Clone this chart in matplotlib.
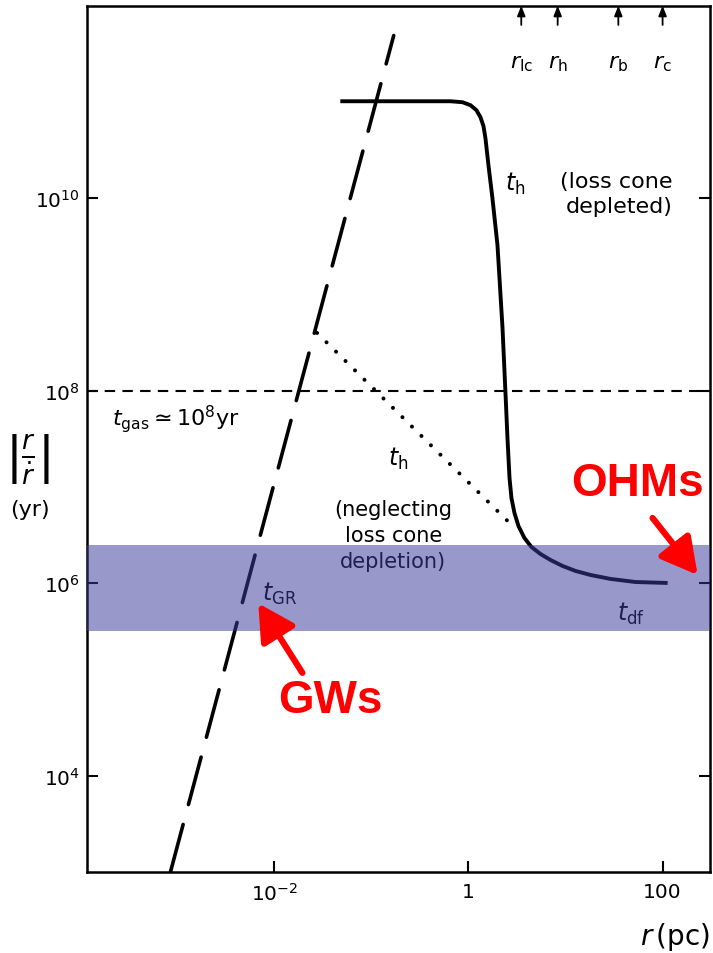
import numpy as np
import matplotlib
matplotlib.use("Agg")
import matplotlib.pyplot as plt

plt.rcParams['font.family'] = ['DejaVu Sans']
plt.rcParams['mathtext.fontset'] = 'dejavusans'

# hardening time t_h with the loss cone depleted (log10 r, log10 t)
r_h_log = [-1.320, -0.186, -0.062, 0.021, 0.082, 0.124, 0.155, 0.175, 0.206,
           0.247, 0.299, 0.351, 0.381, 0.402, 0.423, 0.443, 0.474, 0.515,
           0.577, 0.649, 0.742, 0.845, 0.969, 1.103, 1.258, 1.464, 1.722, 2.052]
t_h_log = [11.007, 11.007, 10.997, 10.966, 10.914, 10.841, 10.748, 10.623,
           10.343, 10.0, 9.512, 8.650, 7.985, 7.508, 7.092, 6.885, 6.729,
           6.594, 6.469, 6.376, 6.303, 6.241, 6.179, 6.127, 6.085, 6.044,
           6.012, 6.002]

# t_h neglecting loss cone depletion (dotted)
r_nlc_log = [-1.56, 0.48]
t_nlc_log = [8.60, 6.57]

# gravitational wave time t_GR (long dashes)
r_gr_log = [-3.07, -0.77]
t_gr_log = [3.0, 11.69]

t_gas = 1e8
band_lo, band_hi = 10**5.5, 10**6.4

# characteristic radii marked on top
radii_names = [r'$r_{\rm lc}$', r'$r_{\rm h}$', r'$r_{\rm b}$', r'$r_{\rm c}$']
radii_vals = [3.5, 8.3, 35.0, 100.0]

xticks = [1e-2, 1, 100]
xticklabels = [r'$10^{-2}$', '1', '100']
yticks = [1e4, 1e6, 1e8, 1e10]
yticklabels = [r'$10^4$', r'$10^6$', r'$10^8$', r'$10^{10}$']

fig = plt.figure(figsize=(7.13, 9.54), dpi=100)
ax = fig.add_axes([0.122, 0.085, 0.874, 0.908])
ax.set_xscale('log')
ax.set_yscale('log')
ax.set_xlim(10**-3.93, 10**2.49)
ax.set_ylim(1e3, 10**12.0)

ax.plot(10**np.array(r_h_log), 10**np.array(t_h_log), color='black', lw=2.8,
        solid_capstyle='butt', solid_joinstyle='round', zorder=2)
ax.plot(10**np.array(r_nlc_log), 10**np.array(t_nlc_log), color='black', lw=2.9,
        dashes=(0.01, 3.3), dash_capstyle='round', zorder=2)
ax.plot(10**np.array(r_gr_log), 10**np.array(t_gr_log), color='black', lw=2.6,
        dashes=(13.6, 5.7), dash_capstyle='round', zorder=2)
ax.axhline(t_gas, color='black', lw=1.5, dashes=(5, 3.5), zorder=2)

ax.axhspan(band_lo, band_hi, color=(58/255, 58/255, 157/255), alpha=0.52,
           lw=0, zorder=4)

# top arrows
for name, rv in zip(radii_names, radii_vals):
    ax.annotate('', xy=(rv, 10**12.0), xytext=(rv, 10**11.8),
                arrowprops=dict(arrowstyle='-|>,head_length=0.5,head_width=0.2',
                                color='black', lw=1.3, shrinkA=0, shrinkB=0,
                                mutation_scale=12))
    ax.text(rv, 10**11.40, name, ha='center', va='center', fontsize=16)

fs = 15
ax.text(10**0.485, 10**10.16, r'$t_{\rm h}$', ha='center', va='center', fontsize=17)
ax.text(10**2.103, 10**10.05, '(loss cone\ndepleted)', ha='right', va='center',
        fontsize=16, multialignment='right', linespacing=1.3)
ax.text(10**-3.67, 10**7.72, r'$t_{\rm gas}\simeq 10^8$yr', ha='left', va='center',
        fontsize=16)
ax.text(10**-0.722, 10**7.30, r'$t_{\rm h}$', ha='center', va='center', fontsize=17)
ax.text(10**-0.773, 10**6.50, '(neglecting\nloss cone\ndepletion)', ha='center',
        va='center', fontsize=fs, linespacing=1.35, zorder=3)
ax.text(10**-2.124, 10**5.90, r'$t_{\rm GR}$', ha='left', va='center', fontsize=17,
        zorder=3)
ax.text(10**1.67, 10**5.69, r'$t_{\rm df}$', ha='center', va='center', fontsize=17,
        zorder=3)

# red annotations
red = '#FF0000'
ax.text(10**1.742, 10**7.04, 'OHMs', color=red, fontsize=33, fontweight='bold',
        family='Liberation Sans', ha='center', va='center', zorder=6)
ax.annotate('', xy=(10**2.361, 10**6.085), xytext=(10**1.897, 10**6.677),
            arrowprops=dict(arrowstyle='-|>,head_length=1.1,head_width=0.6',
                            color=red, lw=4.5, shrinkA=0, shrinkB=0,
                            mutation_scale=20), zorder=6)
ax.text(10**-1.423, 10**4.79, 'GWs', color=red, fontsize=33, fontweight='bold',
        family='Liberation Sans', ha='center', va='center', zorder=6)
ax.annotate('', xy=(10**-2.165, 10**5.79), xytext=(10**-1.711, 10**5.068),
            arrowprops=dict(arrowstyle='-|>,head_length=1.1,head_width=0.6',
                            color=red, lw=4.5, shrinkA=0, shrinkB=0,
                            mutation_scale=20), zorder=6)

ax.set_xticks(xticks)
ax.set_xticklabels(xticklabels)
ax.set_yticks(yticks)
ax.set_yticklabels(yticklabels)
ax.minorticks_off()
ax.tick_params(direction='in', length=8, width=1.5, labelsize=14.5, pad=7,
               right=True, top=False)
ax.tick_params(axis='y', pad=5)
for s in ax.spines.values():
    s.set_linewidth(1.8)

fig.text(0.996, 0.018, r'$r\,$(pc)', ha='right', va='center', fontsize=20)
fig.text(0.039, 0.518, r'$\left|\frac{r}{\dot{r}}\right|$', ha='center', va='center',
         fontsize=27)
fig.text(0.042, 0.465, '(yr)', ha='center', va='center', fontsize=16)

fig.savefig('out.png', dpi=100)
